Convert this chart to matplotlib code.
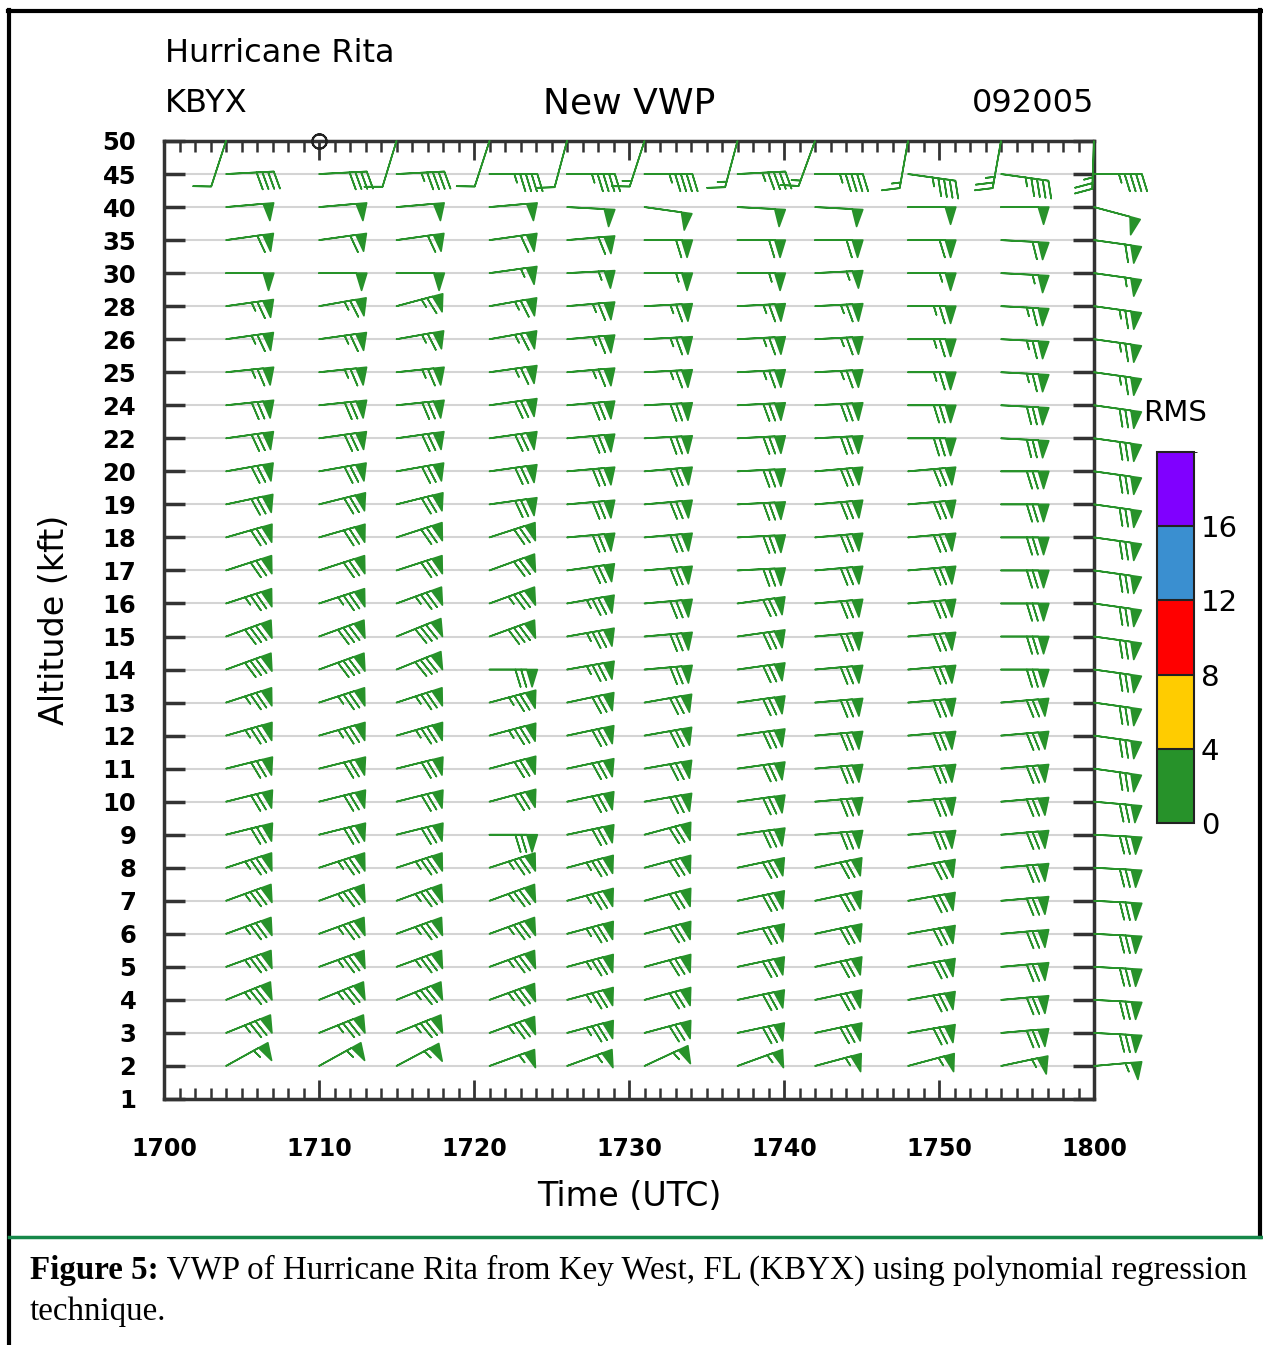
import numpy as np
import matplotlib.pyplot as plt
from matplotlib.colors import ListedColormap, BoundaryNorm
from matplotlib.cm import ScalarMappable
from matplotlib.lines import Line2D

W, H = 1263, 1345

# altitude levels (kft), evenly spaced on the plot
level_labels = ['1', '2', '3', '4', '5', '6', '7', '8', '9', '10', '11', '12', '13',
                '14', '15', '16', '17', '18', '19', '20', '22', '24', '25', '26',
                '28', '30', '35', '40', '45', '50']

# volume scan times, minutes after 1700 UTC
times = [4, 10, 15, 21, 26, 31, 37, 42, 48, 54, 60]
time_ticks = [0, 10, 20, 30, 40, 50, 60]
time_labels = ['1700', '1710', '1720', '1730', '1740', '1750', '1800']

# wind direction (deg) for levels 2 .. 50 at each scan
dir_1704 = [61, 68, 68, 70, 70, 70, 72, 76, 76, 76, 74, 72, 70, 70, 72, 72, 74, 78, 80, 82, 84, 84, 82, 82, 90, 82, 85, 87, 198]
dir_1710 = [61, 68, 68, 70, 70, 70, 72, 76, 76, 76, 74, 72, 70, 70, 72, 72, 74, 76, 80, 82, 84, 84, 82, 80, 90, 82, 85, 87, 0]
dir_1715 = [62, 68, 68, 70, 70, 70, 72, 76, 76, 76, 74, 72, 68, 68, 70, 72, 72, 76, 80, 82, 84, 84, 80, 75, 90, 82, 85, 87, 197]
dir_1721 = [70, 70, 70, 70, 70, 70, 72, 90, 75, 75, 75, 75, 90, 70, 70, 70, 72, 82, 82, 82, 82, 82, 80, 80, 82, 82, 85, 90, 198]
dir_1726 = [70, 75, 75, 75, 75, 75, 75, 78, 78, 78, 78, 78, 80, 80, 80, 82, 85, 85, 85, 85, 85, 85, 85, 85, 87, 85, 93, 90, 195]
dir_1731 = [65, 75, 75, 75, 75, 75, 75, 75, 80, 80, 80, 80, 85, 85, 85, 85, 85, 85, 85, 87, 87, 87, 87, 87, 90, 90, 98, 90, 198]
dir_1737 = [70, 78, 78, 78, 78, 78, 78, 82, 82, 82, 82, 82, 82, 82, 82, 87, 87, 87, 87, 87, 87, 87, 87, 87, 90, 90, 93, 87, 195]
dir_1742 = [75, 78, 78, 78, 78, 78, 78, 85, 85, 85, 85, 85, 85, 85, 85, 85, 85, 85, 85, 87, 87, 87, 87, 87, 87, 90, 93, 90, 200]
dir_1748 = [75, 80, 80, 80, 80, 80, 80, 85, 85, 85, 85, 85, 85, 85, 85, 85, 85, 85, 85, 90, 90, 90, 90, 90, 90, 90, 90, 98, 190]
dir_1754 = [78, 85, 85, 85, 85, 85, 85, 85, 85, 85, 85, 85, 90, 90, 90, 90, 90, 90, 90, 93, 93, 93, 93, 93, 93, 93, 90, 98, 190]
dir_1800 = [85, 93, 93, 93, 93, 93, 93, 93, 95, 98, 98, 98, 98, 98, 98, 98, 98, 98, 98, 98, 98, 98, 98, 98, 98, 98, 105, 90, 182]

# wind speed (kt) for levels 2 .. 50 at each scan
spd_1704 = [55, 75, 75, 75, 75, 75, 75, 70, 70, 70, 75, 75, 80, 80, 75, 70, 70, 70, 70, 70, 70, 65, 65, 65, 50, 60, 50, 40, 10]
spd_1710 = [55, 75, 75, 75, 75, 75, 75, 70, 70, 70, 75, 75, 80, 80, 75, 70, 70, 70, 70, 70, 70, 65, 65, 65, 50, 60, 50, 40, 0]
spd_1715 = [55, 75, 75, 75, 75, 75, 75, 70, 70, 70, 75, 75, 80, 80, 75, 70, 70, 70, 70, 70, 70, 65, 65, 65, 50, 60, 50, 45, 10]
spd_1721 = [55, 75, 75, 75, 75, 75, 75, 70, 70, 70, 75, 75, 70, 80, 75, 70, 70, 70, 70, 70, 70, 65, 65, 65, 55, 60, 50, 45, 10]
spd_1726 = [55, 75, 75, 75, 75, 75, 75, 70, 70, 70, 70, 70, 75, 75, 75, 70, 70, 70, 70, 70, 70, 65, 65, 65, 55, 60, 50, 45, 10]
spd_1731 = [55, 70, 70, 70, 70, 70, 70, 70, 70, 70, 70, 70, 70, 70, 70, 70, 70, 70, 70, 70, 70, 65, 65, 65, 55, 60, 50, 45, 15]
spd_1737 = [55, 70, 70, 70, 70, 70, 70, 70, 70, 70, 70, 70, 70, 70, 70, 70, 70, 70, 70, 70, 70, 65, 65, 65, 55, 60, 50, 45, 15]
spd_1742 = [55, 70, 70, 70, 70, 70, 70, 70, 70, 70, 70, 70, 70, 70, 70, 70, 70, 70, 70, 70, 70, 65, 65, 65, 55, 60, 50, 45, 15]
spd_1748 = [55, 70, 70, 70, 70, 70, 70, 70, 70, 70, 70, 70, 70, 70, 70, 70, 70, 70, 70, 70, 70, 65, 65, 65, 55, 60, 50, 45, 15]
spd_1754 = [55, 70, 70, 70, 70, 70, 70, 70, 70, 70, 70, 70, 70, 70, 70, 70, 70, 70, 70, 70, 70, 65, 65, 65, 55, 60, 50, 45, 25]
spd_1800 = [55, 70, 70, 70, 70, 70, 70, 70, 70, 70, 70, 70, 70, 70, 70, 70, 70, 70, 70, 70, 70, 65, 65, 65, 55, 60, 50, 45, 25]

# RMS of the fit at each scan (all in the lowest class)
rms_scan = [1.5, 1.5, 1.6, 1.8, 1.8, 1.9, 2.0, 2.0, 2.1, 2.2, 2.3]

rms_colors = ['#27922a', '#ffcc00', '#ff0000', '#3a8fd0', '#8000ff']
rms_bounds = [0, 4, 8, 12, 16, 20]
rms_ticks = [0, 4, 8, 12, 16]

directions = [dir_1704, dir_1710, dir_1715, dir_1721, dir_1726, dir_1731,
              dir_1737, dir_1742, dir_1748, dir_1754, dir_1800]
speeds = [spd_1704, spd_1710, spd_1715, spd_1721, spd_1726, spd_1731,
          spd_1737, spd_1742, spd_1748, spd_1754, spd_1800]


def fx(px):
    return px / W


def fy(py):
    return 1 - py / H


fig = plt.figure(figsize=(W / 100, H / 100), dpi=100)

ax = fig.add_axes([fx(164), fy(1099), (1094 - 164) / W, (1099 - 141) / H])
ax.set_xlim(0, 60)
ax.set_ylim(0, len(level_labels) - 1)

cmap = ListedColormap(rms_colors)
norm = BoundaryNorm(rms_bounds, cmap.N)

xs, ys, us, vs, cs = [], [], [], [], []
calm_x, calm_y = [], []
for t, d, s, r in zip(times, directions, speeds, rms_scan):
    for k in range(len(d)):
        if s[k] == 0:
            calm_x.append(t)
            calm_y.append(k + 1)
            continue
        a = np.deg2rad(d[k])
        xs.append(t)
        ys.append(k + 1)
        us.append(-s[k] * np.sin(a))
        vs.append(-s[k] * np.cos(a))
        cs.append(r)

barb_sizes = dict(spacing=0.12, height=0.36, width=0.22, emptybar=0.1)
ax.barbs(xs, ys, us, vs, cs, cmap=cmap, norm=norm, length=8.3, sizes=barb_sizes,
         linewidth=1.2, clip_on=False, zorder=3)
ax.barbs(calm_x, calm_y, np.zeros(len(calm_x)), np.zeros(len(calm_x)),
         length=8.3, sizes=barb_sizes, color='#222222', linewidth=1.4,
         clip_on=False, zorder=3)

ax.set_yticks(range(len(level_labels)))
ax.set_yticklabels(level_labels, fontweight='bold')
ax.set_xticks(time_ticks)
ax.set_xticklabels(time_labels, fontweight='bold')
ax.set_xticks(range(0, 61), minor=True)
ax.grid(axis='y', color='#d4d4d4', linewidth=1.5, zorder=0)

ax.tick_params(axis='x', which='major', direction='in', top=True, bottom=True,
               length=14, width=2, color='#333333', labelsize=17, pad=27)
ax.tick_params(axis='x', which='minor', direction='in', top=True, bottom=True,
               length=8, width=1.8, color='#333333')
ax.tick_params(axis='y', which='major', direction='in', left=True, right=True,
               length=15, width=2.5, color='#333333', labelsize=17.5, pad=20)
for sp in ax.spines.values():
    sp.set_linewidth(2.5)
    sp.set_color('#333333')

fig.text(fx(165), fy(54), 'Hurricane Rita', ha='left', va='center', fontsize=23)
fig.text(fx(165), fy(103), 'KBYX', ha='left', va='center', fontsize=23)
fig.text(fx(629), fy(103), 'New VWP', ha='center', va='center', fontsize=26)
fig.text(fx(1094), fy(103), '092005', ha='right', va='center', fontsize=23)
fig.text(fx(629), fy(1197), 'Time (UTC)', ha='center', va='center', fontsize=24)
fig.text(fx(55), fy(620), 'Altitude (kft)', ha='center', va='center',
         rotation=90, fontsize=24)

# RMS colour key
cax = fig.add_axes([fx(1157), fy(823), 37 / W, (823 - 452) / H])
cb = fig.colorbar(ScalarMappable(norm=norm, cmap=cmap), cax=cax,
                  ticks=rms_ticks, drawedges=True)
cb.outline.set_linewidth(1.5)
cb.outline.set_edgecolor('#222222')
cb.dividers.set_color('#222222')
cb.dividers.set_linewidth(1.5)
cax.tick_params(length=0, labelsize=21, pad=5)
fig.text(fx(1175), fy(413), 'RMS', ha='center', va='center', fontsize=21)

# page frame and caption
fig.add_artist(Line2D([fx(8), fx(1263)], [fy(11), fy(11)], color='black', lw=3))
fig.add_artist(Line2D([fx(9), fx(9)], [fy(10), fy(1345)], color='black', lw=3))
fig.add_artist(Line2D([fx(1260), fx(1260)], [fy(10), fy(1237)], color='black', lw=3))
fig.add_artist(Line2D([fx(9), fx(1263)], [fy(1237), fy(1237)], color='#16884a', lw=2.5))

cap1 = fig.text(fx(30), fy(1270), 'Figure 5:', ha='left', va='center',
                fontsize=23.8, fontweight='bold', family='Liberation Serif')
ax.annotate(' VWP of Hurricane Rita from Key West, FL (KBYX) using polynomial regression',
            xy=(1, 0.5), xycoords=cap1, ha='left', va='center', fontsize=23.8,
            family='Liberation Serif', annotation_clip=False)
fig.text(fx(30), fy(1312), 'technique.', ha='left', va='center', fontsize=23.8,
         family='Liberation Serif')

fig.savefig('out.png', dpi=100)
